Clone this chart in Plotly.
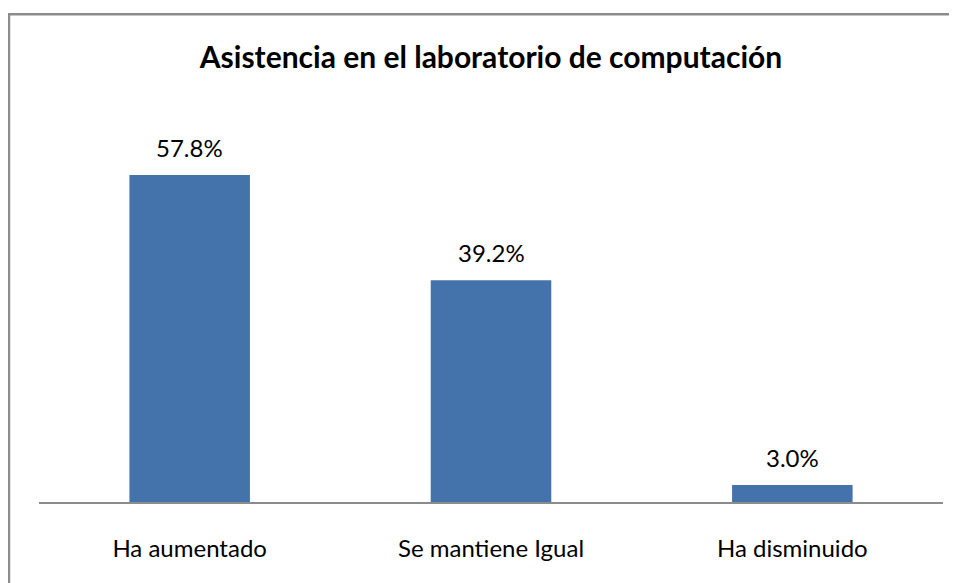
"""Bar chart: Asistencia en el laboratorio de computación."""

import plotly.graph_objects as go

# Data
categories = ["Ha aumentado", "Se mantiene Igual", "Ha disminuido"]
percentages = [57.8, 39.2, 3.0]

BAR_COLOR = "#4472AB"
AXIS_GRAY = "#8C8C8C"
FONT_FAMILY = "Lato, 'Open Sans', Arial, sans-serif"
TEXT = "#000000"

# page body has an 8px default margin, so the figure is a bit smaller than the window
FIG_W, FIG_H = 949, 575

fig = go.Figure()
fig.add_trace(go.Bar(
    x=categories,
    y=percentages,
    marker=dict(color=BAR_COLOR, line=dict(width=0)),
    hovertemplate="<b>%{x}</b><br>%{y:.1f}%<extra></extra>",
))

# Data labels above the bars
for cat, val in zip(categories, percentages):
    fig.add_annotation(
        x=cat, y=val, xref="x", yref="y",
        text=f"{val:.1f}%",
        showarrow=False,
        yanchor="bottom",
        yshift=11,
        font=dict(family=FONT_FAMILY, size=24, color=TEXT),
    )

fig.update_layout(
    width=FIG_W,
    height=FIG_H,
    paper_bgcolor="white",
    plot_bgcolor="white",
    margin=dict(l=31, r=14, t=98, b=81),
    showlegend=False,
    bargap=0.6,
    font=dict(family=FONT_FAMILY, size=24, color=TEXT),
    title=dict(
        text="<b>Asistencia en el laboratorio de computación</b>",
        x=483 / FIG_W, xanchor="center", xref="container",
        y=1 - 49 / FIG_H, yanchor="middle", yref="container",
        font=dict(family=FONT_FAMILY, size=30, color=TEXT),
    ),
)

# Outer chart border (right and bottom run off the image)
fig.add_shape(
    type="rect", xref="paper", yref="paper",
    x0=-0.0332, x1=1.03, y0=-0.25, y1=1.232,
    line=dict(color=AXIS_GRAY, width=2.5),
    fillcolor="rgba(0,0,0,0)",
    layer="below",
)

fig.update_xaxes(
    showgrid=False,
    showline=True,
    linecolor=AXIS_GRAY,
    linewidth=1.5,
    ticks="",
    ticklabelstandoff=24,
    tickfont=dict(family=FONT_FAMILY, size=24, color=TEXT),
    zeroline=False,
)
fig.update_yaxes(
    range=[0, 70],
    visible=False,
    showgrid=False,
    zeroline=False,
)

fig.write_html("out.html")
